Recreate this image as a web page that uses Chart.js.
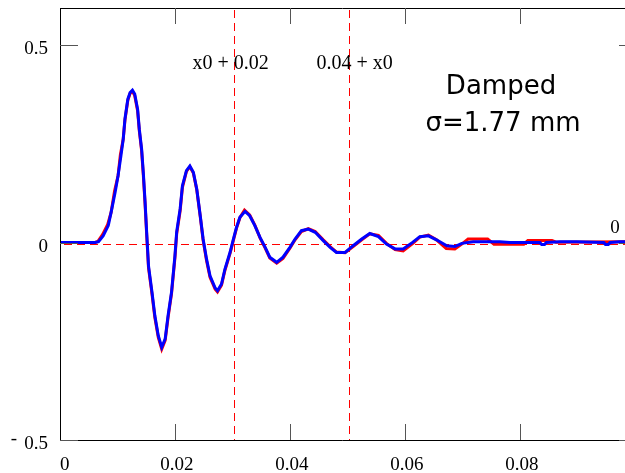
<!DOCTYPE html>
<html>
<head>
<meta charset="utf-8">
<script src="https://cdn.jsdelivr.net/npm/chart.js@4/dist/chart.umd.min.js"></script>
<style>
    body { margin: 0; background: #fff; }
    #wrap { width: 625px; height: 473px; position: relative; }
</style>
</head>
<body>
<div id="wrap"><canvas id="chart"></canvas></div>
<script>
const xTicks     = [0, 0.02, 0.04, 0.06, 0.08]
const xTickText  = ['0', '0.02', '0.04', '0.06', '0.08']
const yTicks     = [0.5, 0, -0.5]
const markerX    = [0.0302, 0.0502]
const markerText = ['x0 + 0.02', '0.04 + x0']
const titleLines = ['Damped', 'σ=1.77 mm']

const blueX = [
    0, 0.0061, 0.0067, 0.0075, 0.0084, 0.0089, 0.0096, 0.0101, 0.0106, 0.0110,
    0.0113, 0.0118, 0.0122, 0.0126, 0.0130, 0.0135, 0.0138, 0.0142, 0.0145, 0.0148,
    0.0151, 0.0154, 0.0160, 0.0165, 0.0171, 0.0177, 0.0183, 0.0188, 0.0194, 0.0200,
    0.0203, 0.0209, 0.0213, 0.0220, 0.0226, 0.0232, 0.0238, 0.0244, 0.0249, 0.0255,
    0.0261, 0.0270, 0.0274, 0.0281, 0.0287, 0.0296, 0.0301, 0.0307, 0.0313, 0.0322,
    0.0330, 0.0339, 0.0348, 0.0357, 0.0365, 0.0377, 0.0388, 0.0400, 0.0409, 0.0420,
    0.0432, 0.0444, 0.0458, 0.0470, 0.0481, 0.0496, 0.0510, 0.0525, 0.0539, 0.0554,
    0.0568, 0.0583, 0.0597, 0.0614, 0.0626, 0.0641, 0.0655, 0.0673, 0.0687, 0.0699,
    0.0719, 0.0765, 0.0783, 0.0835, 0.0838, 0.0843, 0.0846, 0.0870, 0.0899, 0.0946,
    0.0949, 0.0954, 0.0957, 0.0974, 0.0983
]
const blueY = [
    0, 0, 0.002, 0.017, 0.043, 0.077, 0.128, 0.169, 0.220, 0.262,
    0.313, 0.363, 0.380, 0.386, 0.376, 0.338, 0.287, 0.237, 0.176, 0.103,
    0.020, -0.059, -0.125, -0.185, -0.236, -0.265, -0.244, -0.185, -0.126, -0.033,
    0.027, 0.085, 0.144, 0.182, 0.194, 0.178, 0.135, 0.068, 0.009, -0.042,
    -0.084, -0.115, -0.122, -0.105, -0.067, -0.024, 0.005, 0.038, 0.064, 0.079,
    0.068, 0.043, 0.013, -0.012, -0.037, -0.050, -0.037, -0.012, 0.009, 0.030,
    0.034, 0.026, 0.005, -0.012, -0.025, -0.025, -0.008, 0.009, 0.023, 0.015,
    -0.004, -0.016, -0.016, 0.001, 0.015, 0.017, 0.007, -0.008, -0.010, -0.002,
    0.002, 0.002, 0.000, 0.000, -0.005, -0.005, 0.000, 0.002, 0.002, 0.000,
    -0.005, -0.005, 0.000, 0.002, 0.002
]

const redX = [
    0, 0.0060, 0.0066, 0.0074, 0.0083, 0.0089, 0.0095, 0.0101, 0.0105, 0.0110,
    0.0113, 0.0118, 0.0122, 0.0126, 0.0130, 0.0135, 0.0138, 0.0142, 0.0145, 0.0148,
    0.0151, 0.0154, 0.0160, 0.0165, 0.0171, 0.0177, 0.0183, 0.0188, 0.0194, 0.0200,
    0.0203, 0.0209, 0.0213, 0.0220, 0.0226, 0.0232, 0.0238, 0.0244, 0.0249, 0.0255,
    0.0261, 0.0270, 0.0274, 0.0281, 0.0287, 0.0296, 0.0301, 0.0307, 0.0313, 0.0321,
    0.0330, 0.0339, 0.0348, 0.0357, 0.0365, 0.0377, 0.0388, 0.0400, 0.0409, 0.0420,
    0.0432, 0.0444, 0.0458, 0.0470, 0.0481, 0.0496, 0.0510, 0.0525, 0.0539, 0.0554,
    0.0568, 0.0583, 0.0597, 0.0614, 0.0626, 0.0641, 0.0655, 0.0672, 0.0687, 0.0699,
    0.0710, 0.0744, 0.0755, 0.0807, 0.0814, 0.0856, 0.0863, 0.0983
]
const redY = [
    0, 0, 0.003, 0.020, 0.046, 0.077, 0.131, 0.169, 0.222, 0.262,
    0.310, 0.360, 0.378, 0.383, 0.372, 0.334, 0.283, 0.232, 0.170, 0.098,
    0.015, -0.064, -0.130, -0.190, -0.240, -0.270, -0.248, -0.190, -0.130, -0.038,
    0.022, 0.080, 0.140, 0.180, 0.192, 0.176, 0.133, 0.066, 0.006, -0.046,
    -0.088, -0.118, -0.125, -0.108, -0.070, -0.027, 0.002, 0.036, 0.063, 0.082,
    0.070, 0.044, 0.012, -0.014, -0.039, -0.052, -0.040, -0.014, 0.007, 0.028,
    0.035, 0.028, 0.007, -0.010, -0.024, -0.026, -0.010, 0.007, 0.022, 0.018,
    -0.002, -0.018, -0.021, -0.002, 0.014, 0.019, 0.007, -0.015, -0.016, -0.004,
    0.009, 0.009, -0.004, -0.004, 0.005, 0.005, 0.001, 0.002
]

const toPoints = (xs, ys) => xs.map((x, i) => ({ x: x, y: ys[i] }))

const serif = '"Liberation Serif", "DejaVu Serif", serif'

// dashes drawn as small rects so the colour stays pure red
function dashH(ctx, x0, x1, py) {
    for (let p = x0; p < x1; p += 13) ctx.fillRect(p, py, Math.min(8, x1 - p), 1)
}
function dashV(ctx, y0, y1, px) {
    for (let p = y0; p < y1; p += 13) ctx.fillRect(px, p, 1, Math.min(8, y1 - p))
}

const framePlugin = {
    id: 'frame',
    beforeDatasetsDraw(chart) {
        const { ctx, chartArea: a, scales: { x, y } } = chart
        ctx.save()
        ctx.fillStyle = '#ff0000'
        dashH(ctx, a.left + 4, a.right, Math.round(y.getPixelForValue(0)) + 1)
        markerX.forEach(v => dashV(ctx, a.top + 2, a.bottom, Math.round(x.getPixelForValue(v))))
        ctx.restore()
    },
    afterDraw(chart) {
        const { ctx, chartArea: a, scales: { x, y } } = chart
        ctx.save()

        // frame: left, top, bottom (right edge falls outside the picture)
        ctx.strokeStyle = '#000'
        ctx.lineWidth   = 1
        ctx.beginPath()
        ctx.moveTo(a.left + 0.5, a.top)
        ctx.lineTo(a.left + 0.5, a.bottom + 0.5)
        ctx.lineTo(a.right, a.bottom + 0.5)
        ctx.moveTo(a.left, a.top + 0.5)
        ctx.lineTo(a.right, a.top + 0.5)
        ctx.stroke()

        // inner ticks
        ctx.strokeStyle = '#555'
        ctx.beginPath()
        xTicks.forEach(v => {
            if (v === 0) return
            const px = Math.round(x.getPixelForValue(v)) + 0.5
            ctx.moveTo(px, a.bottom)
            ctx.lineTo(px, a.bottom - 16)
            ctx.moveTo(px, a.top)
            ctx.lineTo(px, a.top + 16)
        })
        yTicks.forEach(v => {
            const py = Math.round(y.getPixelForValue(v)) + 0.5
            ctx.moveTo(a.left, py)
            ctx.lineTo(a.left + 18, py)
            ctx.moveTo(a.right, py)
            ctx.lineTo(a.right - 6, py)
        })
        ctx.stroke()

        // tick labels
        ctx.fillStyle    = '#000'
        ctx.font         = '19px ' + serif
        ctx.textBaseline = 'alphabetic'
        xTicks.forEach((v, i) => {
            const px = x.getPixelForValue(v)
            ctx.textAlign = v === 0 ? 'left' : 'center'
            ctx.fillText(xTickText[i], v === 0 ? px : px + 2, 470)
        })
        ctx.textAlign = 'right'
        yTicks.forEach(v => {
            const py = y.getPixelForValue(v)
            ctx.fillText(Math.abs(v).toString(), 48, py + 9)
        })
        ctx.textAlign = 'center'
        ctx.fillText('-', 14, y.getPixelForValue(-0.5) + 4)

        // marker labels
        ctx.font = '20px ' + serif
        ctx.fillText(markerText[0], x.getPixelForValue(markerX[0]) - 3, 69)
        ctx.fillText(markerText[1], x.getPixelForValue(markerX[1]) + 6, 69)
        ctx.font = '19px ' + serif
        ctx.fillText('0', 615, y.getPixelForValue(0) - 10)

        // title
        ctx.font = '26px "DejaVu Sans", sans-serif'
        ctx.fillText(titleLines[0], 501, 94)
        ctx.fillText(titleLines[1], 503, 131)

        ctx.restore()
    }
}

new Chart(document.getElementById('chart'), {
    type: 'line',
    data: {
        datasets: [
            {
                label: 'blue',
                data: toPoints(blueX, blueY),
                borderColor: '#0000ff',
                borderWidth: 3,
                pointRadius: 0,
                tension: 0
            },
            {
                label: 'red',
                data: toPoints(redX, redY),
                borderColor: '#ff0000',
                borderWidth: 3,
                pointRadius: 0,
                tension: 0
            }
        ]
    },
    options: {
        responsive: true,
        maintainAspectRatio: false,
        animation: false,
        layout: { padding: { left: 60, top: 8, right: 0, bottom: 33 } },
        plugins: { legend: { display: false }, tooltip: { enabled: false } },
        scales: {
            x: { type: 'linear', min: 0, max: 0.0983, display: false },
            y: { min: -0.5, max: 0.594, display: false }
        }
    },
    plugins: [framePlugin]
})
</script>
</body>
</html>
